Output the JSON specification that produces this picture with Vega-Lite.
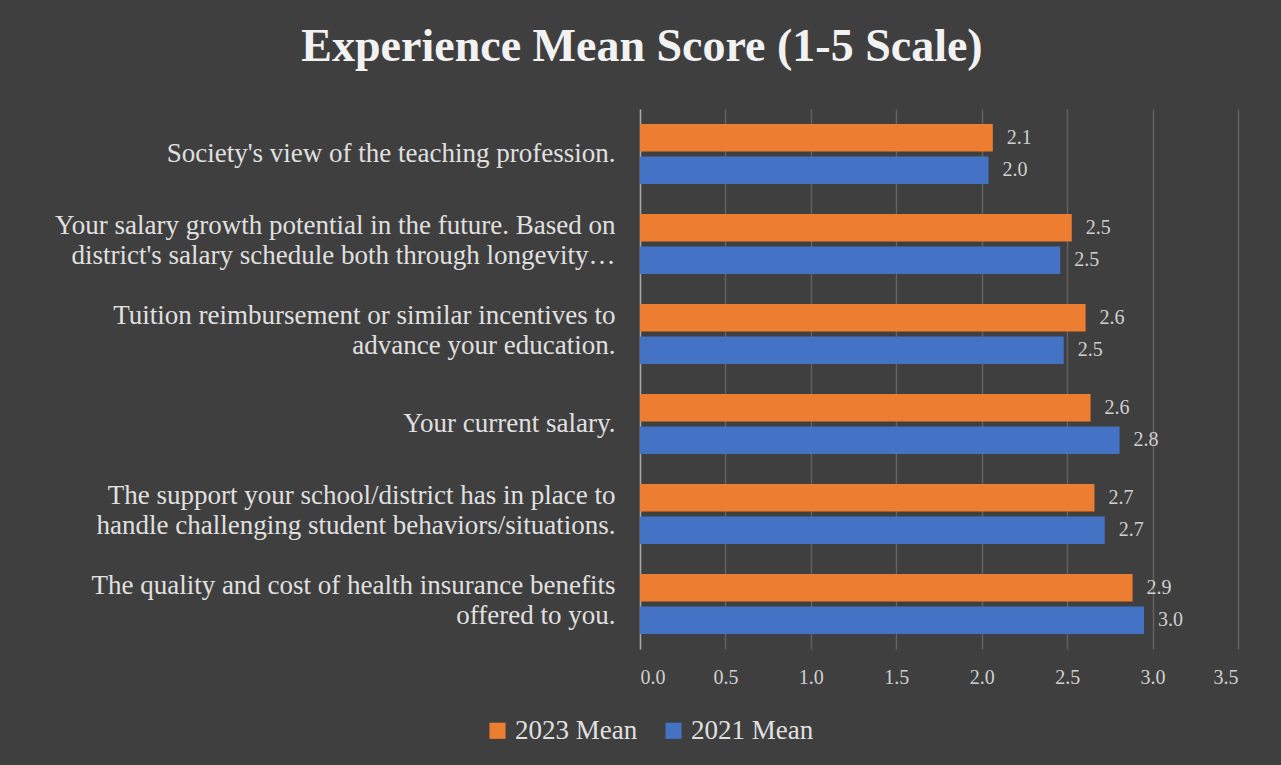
{
  "$schema": "https://vega.github.io/schema/vega-lite/v6.json",
  "width": 598,
  "height": 540,
  "autosize": {"type": "none"},
  "padding": {"left": 640, "top": 109, "right": 43, "bottom": 116},
  "background": "#3f3f3f",
  "config": {
    "view": {"stroke": null},
    "font": "Liberation Serif"
  },
  "title": {
    "text": "Experience Mean Score (1-5 Scale)",
    "font": "Liberation Serif",
    "fontSize": 46,
    "fontWeight": "bold",
    "color": "#f2f2f2",
    "anchor": "middle",
    "dx": -297,
    "offset": 38
  },
  "data": {
    "values": [
      {"item": "Society's view of the teaching profession.", "series": "2023 Mean", "score": 2.065},
      {"item": "Society's view of the teaching profession.", "series": "2021 Mean", "score": 2.04},
      {"item": "Your salary growth potential in the future. Based on\ndistrict's salary schedule both through longevity…", "series": "2023 Mean", "score": 2.527},
      {"item": "Your salary growth potential in the future. Based on\ndistrict's salary schedule both through longevity…", "series": "2021 Mean", "score": 2.46},
      {"item": "Tuition reimbursement or similar incentives to\nadvance your education.", "series": "2023 Mean", "score": 2.608},
      {"item": "Tuition reimbursement or similar incentives to\nadvance your education.", "series": "2021 Mean", "score": 2.48},
      {"item": "Your current salary.", "series": "2023 Mean", "score": 2.637},
      {"item": "Your current salary.", "series": "2021 Mean", "score": 2.807},
      {"item": "The support your school/district has in place to\nhandle challenging student behaviors/situations.", "series": "2023 Mean", "score": 2.66},
      {"item": "The support your school/district has in place to\nhandle challenging student behaviors/situations.", "series": "2021 Mean", "score": 2.72},
      {"item": "The quality and cost of health insurance benefits\noffered to you.", "series": "2023 Mean", "score": 2.883},
      {"item": "The quality and cost of health insurance benefits\noffered to you.", "series": "2021 Mean", "score": 2.95}
    ]
  },
  "encoding": {
    "y": {
      "field": "item",
      "type": "nominal",
      "sort": null,
      "scale": {"paddingInner": 0.333, "paddingOuter": 0.1667},
      "axis": {
        "title": null,
        "labelExpr": "split(datum.value, '\\n')",
        "labelFontSize": 27,
        "labelLineHeight": 30,
        "labelColor": "#e0e0e0",
        "labelLimit": 0,
        "labelPadding": 25,
        "labelOffset": {"condition": {"test": "indexof(datum.value, '\\n') >= 0", "value": -18}, "value": 0},
        "ticks": false,
        "domain": true,
        "domainColor": "#a6a6a6",
        "domainWidth": 1.5,
        "grid": false
      }
    },
    "yOffset": {
      "field": "series",
      "type": "nominal",
      "sort": ["2023 Mean", "2021 Mean"],
      "scale": {"paddingInner": 0.15}
    },
    "x": {
      "field": "score",
      "type": "quantitative",
      "scale": {"domain": [0, 3.5], "nice": false},
      "axis": {
        "title": null,
        "values": [0, 0.5, 1, 1.5, 2, 2.5, 3, 3.5],
        "format": ".1f",
        "labelFontSize": 20,
        "labelColor": "#d0d0d0",
        "labelPadding": 18,
        "ticks": false,
        "domain": false,
        "grid": true,
        "gridColor": "#626262",
        "gridWidth": 1.5
      }
    }
  },
  "layer": [
    {
      "mark": {"type": "bar"},
      "encoding": {
        "color": {
          "field": "series",
          "type": "nominal",
          "scale": {"domain": ["2023 Mean", "2021 Mean"], "range": ["#ED7D31", "#4472C4"]},
          "legend": {
            "title": null,
            "orient": "none",
            "direction": "horizontal",
            "legendX": -156,
            "legendY": 608,
            "symbolType": "square",
            "symbolSize": 260,
            "symbolStrokeWidth": 0,
            "labelFontSize": 27,
            "labelColor": "#e0e0e0",
            "labelOffset": 4,
            "columnPadding": 22
          }
        }
      }
    },
    {
      "mark": {"type": "text", "align": "left", "baseline": "middle", "dx": 14, "fontSize": 20, "color": "#d0d0d0"},
      "encoding": {
        "text": {"field": "score", "type": "quantitative", "format": ".1f"}
      }
    }
  ]
}
